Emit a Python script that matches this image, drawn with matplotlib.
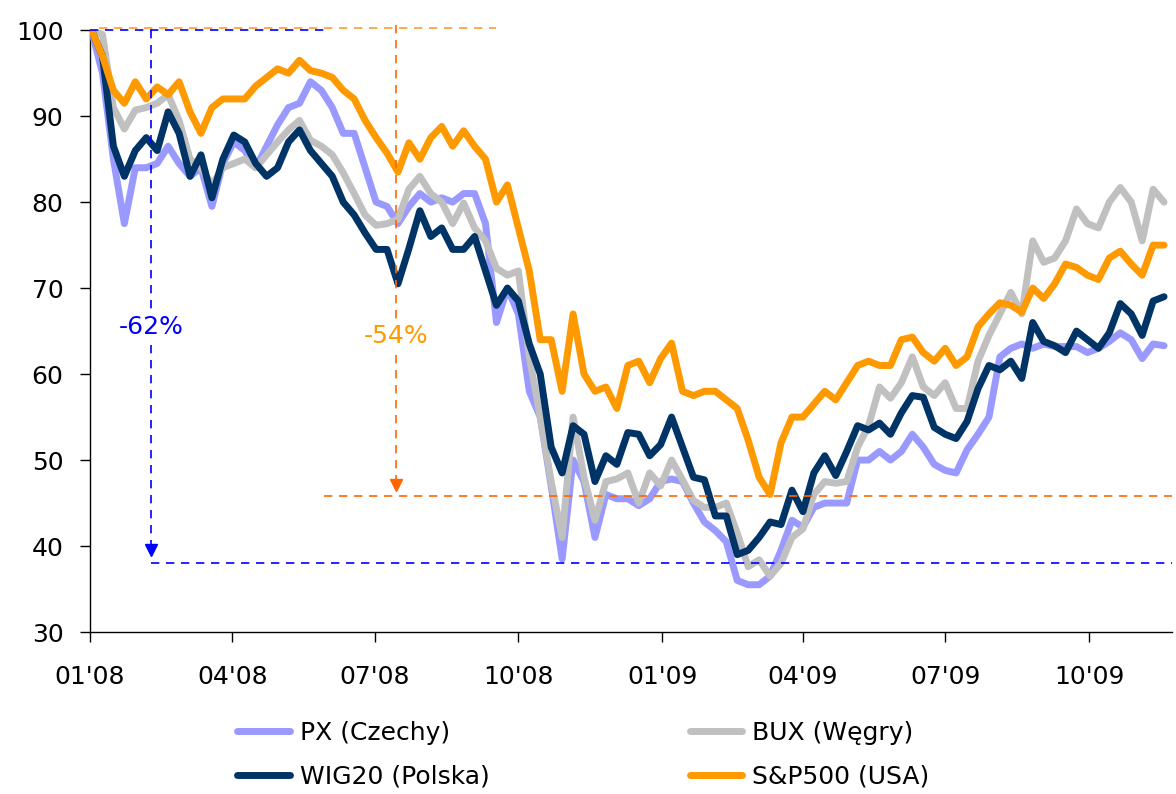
import matplotlib
matplotlib.use('Agg')
import matplotlib.pyplot as plt
import matplotlib.dates as mdates
import pandas as pd

# ---------------------------------------------------------------- DATA
# weekly readings, index 100 = 2 Jan 2008
start_date = '2008-01-02'

px = [100, 95, 85, 77.5, 84, 84, 84.5, 86.5, 84.5, 83,
      84, 79.5, 84.5, 87, 86, 84, 86.5, 89, 91, 91.5,
      94, 93, 91, 88, 88, 84, 80, 79.5, 77.5, 79.5,
      81, 80, 80.5, 80, 81, 81, 77.5, 66, 70, 67,
      58, 55, 47, 38.5, 50, 47.5, 41, 46, 45.5, 45.5,
      44.7, 45.5, 47.5, 47.8, 47.5, 45, 42.8, 41.8, 40.5, 36,
      35.5, 35.5, 36.5, 39.5, 43, 42.2, 44.5, 45, 45, 45,
      50, 50, 51, 50, 51, 53, 51.5, 49.5, 48.8, 48.5,
      51.2, 53, 55, 62, 63, 63.5, 63, 63.5, 63.2, 63.2,
      63.2, 62.5, 63, 63.8, 64.8, 64, 61.8, 63.5, 63.3]

bux = [100, 99.5, 91, 88.5, 90.7, 91, 91.5, 92.5, 89.5, 85,
       84, 82, 84, 84.5, 85, 84, 85.5, 87, 88.4, 89.5,
       87.2, 86.5, 85.5, 83.4, 81, 78.5, 77.3, 77.5, 78, 81.5,
       83, 81, 80, 77.5, 79.9, 77, 75.5, 72.3, 71.5, 72,
       62, 55, 47.5, 41, 55, 48, 43, 47.5, 47.8, 48.5,
       45, 48.5, 47, 50, 47.7, 45.3, 44.5, 44.5, 45, 41.5,
       37.6, 38.4, 36.5, 38, 41, 42, 46, 47.5, 47.3, 47.5,
       51.5, 54, 58.5, 57.2, 59, 62, 58.5, 57.5, 59, 56,
       56, 61.5, 64.5, 67, 69.5, 67, 75.5, 73, 73.5, 75.5,
       79.2, 77.5, 77, 80, 81.7, 80, 75.5, 81.5, 80]

wig20 = [100, 97, 86.5, 83, 86, 87.5, 86, 90.5, 88, 83,
         85.5, 80.5, 85, 87.8, 87, 84.5, 83, 84, 87, 88.4,
         86, 84.5, 83, 80, 78.5, 76.4, 74.5, 74.5, 70.5, 74.6,
         79, 76, 77, 74.5, 74.5, 76, 72, 68, 70, 68.5,
         63.5, 60, 51.5, 48.5, 54, 53, 47.5, 50.5, 49.5, 53.2,
         53, 50.5, 51.8, 55, 51.5, 48, 47.7, 43.5, 43.5, 39,
         39.5, 41, 42.8, 42.5, 46.5, 44, 48.5, 50.5, 48.2, 51,
         54, 53.5, 54.3, 53, 55.5, 57.5, 57.3, 53.8, 53, 52.5,
         54.5, 58.3, 61, 60.5, 61.5, 59.5, 66, 63.8, 63.3, 62.5,
         65, 64, 63, 64.8, 68.2, 67, 64.5, 68.5, 69]

sp500 = [100, 97, 93, 91.5, 94, 92, 93.4, 92.5, 94, 90.5,
         88, 91, 92, 92, 92, 93.5, 94.5, 95.5, 95, 96.5,
         95.3, 95, 94.5, 93, 92, 89.5, 87.5, 85.7, 83.5, 86.9,
         85, 87.5, 88.8, 86.5, 88.3, 86.5, 85, 80, 82, 77,
         72, 64, 64, 58, 67, 60, 58, 58.5, 56, 61,
         61.5, 59, 61.8, 63.6, 58, 57.5, 58, 58, 57, 56,
         52.3, 48, 46, 52, 55, 55, 56.5, 58, 57, 59,
         61, 61.5, 61, 61, 64, 64.3, 62.5, 61.5, 63, 61,
         62, 65.5, 67, 68.3, 68, 67.2, 70, 68.8, 70.5, 72.8,
         72.4, 71.5, 71, 73.5, 74.3, 72.8, 71.5, 75, 75]

labels = ['PX (Czechy)', 'BUX (Węgry)', 'WIG20 (Polska)', 'S&P500 (USA)']
colors = ['#9999FF', '#C0C0C0', '#003366', '#FF9900']

# drawdown markers: (date of the top, bottom level, text)
blue_date, blue_low, blue_text = '2008-02-09', 38.0, '-62%'
orange_date, orange_low, orange_text = '2008-07-15', 45.8, '-54%'

# ---------------------------------------------------------------- PLOT
plt.rcParams['font.family'] = ['DejaVu Sans']
plt.rcParams['font.size'] = 18

dates = pd.date_range(start_date, periods=len(px), freq='7D')
x_end = pd.Timestamp('2009-11-23')

fig = plt.figure(figsize=(11.76, 7.94), dpi=100)
ax = fig.add_axes([0.0765, 0.204, 0.92, 0.758])

handles = []
for series, label, color in zip([px, bux, wig20, sp500], labels, colors):
    h, = ax.plot(dates, series, color=color, lw=5.0, label=label,
                 solid_joinstyle='round', solid_capstyle='round', zorder=3)
    handles.append(h)

# dashed guide lines
dash = dict(ls='--', lw=1.2, dashes=(5, 4), clip_on=False, zorder=4)
ax.plot([pd.Timestamp('2008-01-07'), pd.Timestamp('2008-09-17')], [100.2, 100.2],
        color='#FF9933', **dash)
ax.plot([pd.Timestamp('2008-01-01'), pd.Timestamp('2008-05-30')], [100, 100],
        color='#0000FF', **dash)
ax.plot([pd.Timestamp(blue_date), x_end], [blue_low, blue_low], color='#0000FF', **dash)
ax.plot([pd.Timestamp('2008-05-30'), x_end], [orange_low, orange_low],
        color='#FF6600', **dash)

# vertical arrows
ax.plot([pd.Timestamp(blue_date)] * 2, [100, 39.5], color='#0000FF', **dash)
ax.plot([pd.Timestamp(blue_date)], [39.5], marker='v', ms=9, color='#0000FF', zorder=4)
ax.plot([pd.Timestamp(orange_date)] * 2, [100.6, 47.1], color='#FF6600', **dash)
ax.plot([pd.Timestamp(orange_date)], [47.1], marker='v', ms=9, color='#FF6600', zorder=4)

ax.text(pd.Timestamp(blue_date), 65.5, blue_text, color='#0000FF', ha='center',
        va='center', fontsize=18, zorder=5,
        bbox=dict(facecolor='white', edgecolor='none', pad=2))
ax.text(pd.Timestamp(orange_date), 64.4, orange_text, color='#FF9900', ha='center',
        va='center', fontsize=18, zorder=5,
        bbox=dict(facecolor='white', edgecolor='none', pad=2))

# axes
ax.set_ylim(30, 100)
ax.set_yticks(range(30, 101, 10))
ax.set_xlim(pd.Timestamp('2008-01-01'), x_end)
ax.xaxis.set_major_locator(mdates.MonthLocator(bymonth=[1, 4, 7, 10]))
ax.xaxis.set_major_formatter(mdates.DateFormatter("%m'%y"))
ax.tick_params(axis='both', direction='out', length=7, width=1, colors='black',
               labelsize=18)
ax.tick_params(axis='x', pad=17)
ax.tick_params(axis='y', pad=12)
ax.spines['top'].set_visible(False)
ax.spines['right'].set_visible(False)
for side in ['left', 'bottom']:
    ax.spines[side].set_linewidth(1)

# legend: PX / BUX in the first row, WIG20 / S&P500 in the second
order = [0, 2, 1, 3]
fig.legend([handles[i] for i in order], [labels[i] for i in order],
           ncol=2, loc='center', bbox_to_anchor=(0.496, 0.0497), frameon=False,
           fontsize=18, handlelength=2.1, handletextpad=0.4,
           columnspacing=8.0, labelspacing=0.78)

plt.savefig('out.png', dpi=100)
